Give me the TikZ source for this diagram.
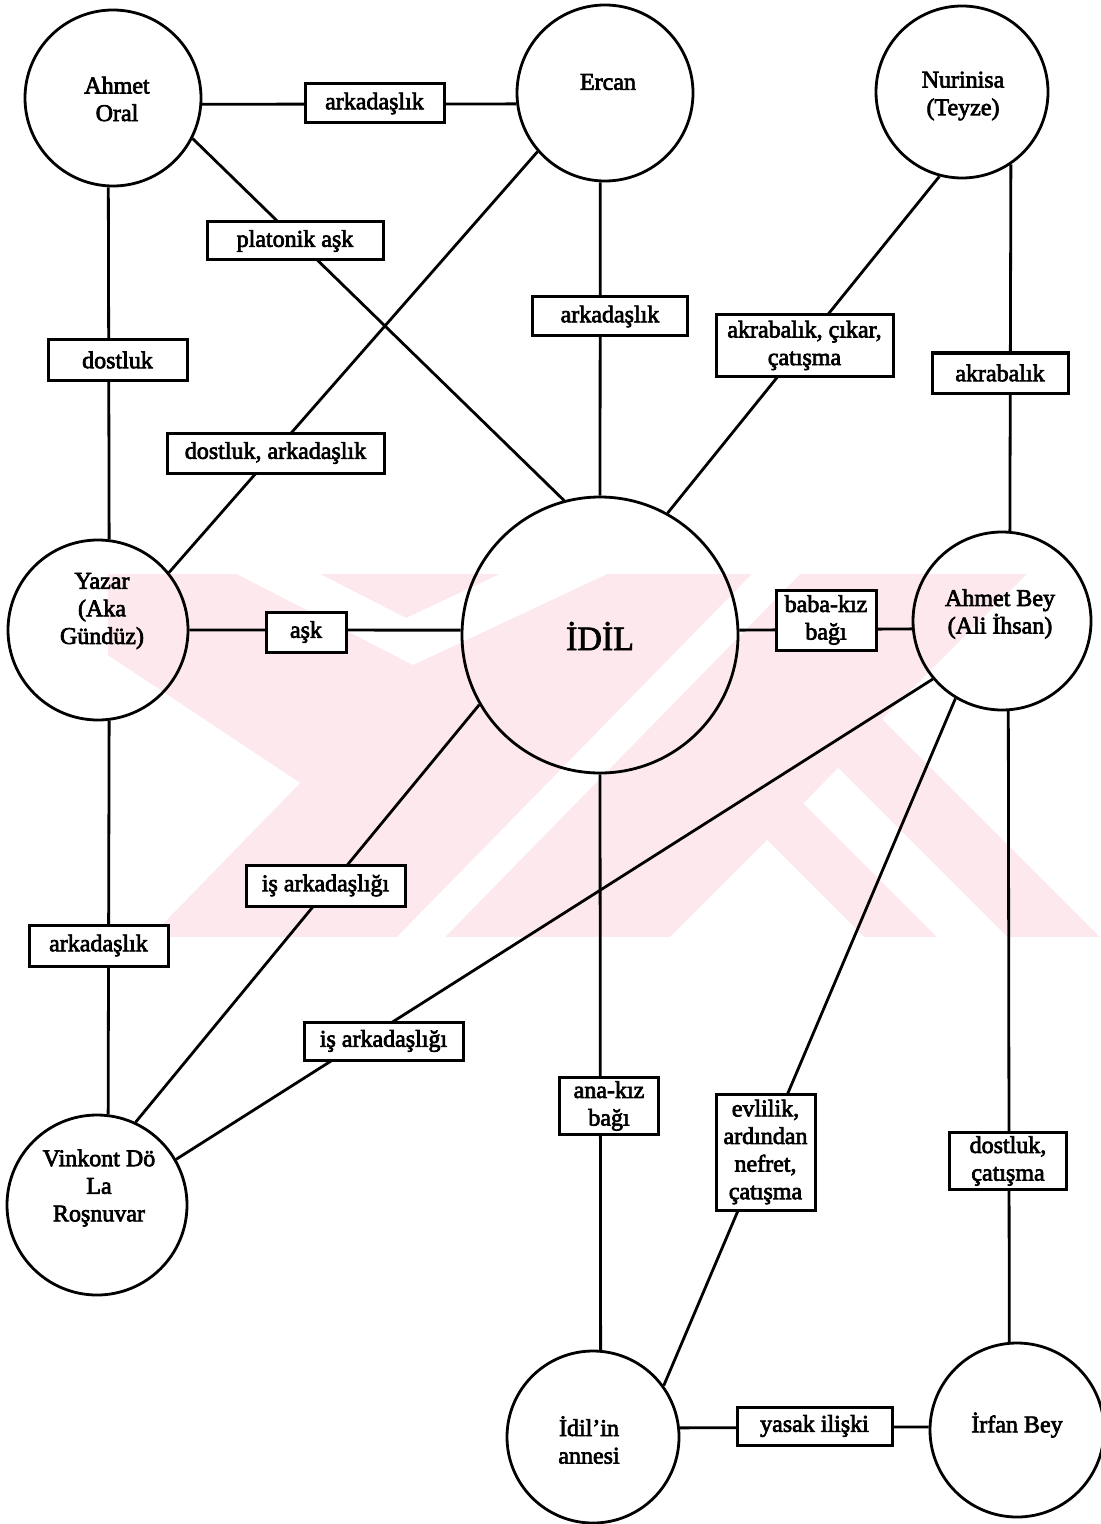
\documentclass[tikz,border=0pt]{standalone}
\usepackage{fontspec}
\setmainfont{Liberation Serif}
\definecolor{wmpink}{RGB}{253,233,237}
% print glyphs filled and outlined, for a heavier ink
\newcommand{\inkon}{\special{pdf:literal direct 2 Tr 0.35 w}}
\newcommand{\inkoff}{\special{pdf:literal direct 0 Tr}}
\begin{document}
\begin{tikzpicture}[x=0.5pt,y=-0.5pt,
  person/.style={circle, draw, line width=1.4pt, inner sep=0pt, minimum size=#1},
  ptext/.style={align=center, inner sep=0pt, font=\fontsize{12}{13.8}\selectfont\inkon,
    execute at end node=\inkoff},
  relbox/.style 2 args={draw, fill=white, line width=1.5pt, inner sep=0pt,
    align=center, minimum width=#1, minimum height=#2,
    font=\fontsize{12}{13.8}\selectfont\inkon, execute at end node=\inkoff},
  link/.style={line width=1.4pt}]
\useasboundingbox (0,0) rectangle (1100,1524);

% faint emblem in the background
\begin{scope}
  \clip (108,574) rectangle (1100,937);
  \fill[wmpink] (108,574) rectangle (1100,937);
  \fill[white] (100,650) -- (300,783) -- (150,937) -- (100,937) -- cycle;
  \fill[white] (237,574) -- (320,574) -- (406,618) -- (500,574) -- (607,574) -- (413,665) -- cycle;
  \fill[white] (397,937) -- (445,937) -- (800,574) -- (752,574) -- cycle;
  \fill[white] (670,937) -- (767,840) -- (864,937) -- cycle;
  \fill[white] (838,768) -- (1007,937) -- (937,937) -- (803.5,803.5) -- cycle;
  \fill[white] (882,719) -- (1027,574) -- (1110,574) -- (1110,947) -- cycle;
\end{scope}

% characters
\node[person=88pt] (ao) at (113,98) {};
\node[ptext] (aot) at (117,99) {Ahmet\\Oral};
\node[person=88pt] (er) at (605,93) {};
\node[ptext] (ert) at (608,82) {Ercan};
\node[person=86pt] (nu) at (962,92) {};
\node[ptext] (nut) at (963,96) {Nurinisa\\(Teyze)};
\node[person=90pt] (ya) at (98,630) {};
\node[ptext] (yat) at (102,611) {Yazar\\(Aka\\Gündüz)};
\node[person=138pt] (id) at (600,635) {};
\node[ptext, font=\fontsize{17}{20}\selectfont\inkon] (idt) at (600,636) {İDİL};
\node[person=89pt] (ab) at (1002,621) {};
\node[ptext] (abt) at (1000,614) {Ahmet Bey\\(Ali İhsan)};
\node[person=90pt] (vi) at (97,1205) {};
\node[ptext] (vit) at (99,1188) {Vinkont Dö\\La\\Roşnuvar};
\node[person=86pt] (an) at (593,1437) {};
\node[ptext] (ant) at (589,1440) {İdil’in\\annesi};
\node[person=87pt] (ir) at (1017,1430) {};
\node[ptext] (irt) at (1017,1425) {İrfan Bey};

% relations
\draw[link] (ao.-4) -- (er.187);
\draw[link] (ao.-27) -- (id.105);
\draw[link] (ao.-93.3) -- (ya.83.6);
\draw[link] (er.-93.3) -- (id.90);
\draw[link] (er.221) -- (ya.39);
\draw[link] (nu.-105.5) -- (id.61);
\draw[link] (nu.-56.9) -- (ab.85.5);
\draw[link] (ya.-0.6) -- (id.178.3);
\draw[link] (id.2.5) -- (ab.185.2);
\draw[link] (ya.-83.6) -- (vi.83);
\draw[link] (id.210.6) -- (vi.65.9);
\draw[link] (ab.220.3) -- (vi.30.3);
\draw[link] (id.-90) -- (an.85.3);
\draw[link] (ab.239.4) -- (an.36.2);
\draw[link] (ab.-86.1) -- (ir.95.9);
\draw[link] (an.6.7) -- (ir.178);

% relation labels
\node[relbox={69.5pt}{19.5pt}] (b1) at (374.5,103.5) {arkadaşlık};
\node[relbox={88pt}{19pt}] (b2) at (295,241) {platonik aşk};
\node[relbox={77.5pt}{19.5pt}] (b3) at (610,316.5) {arkadaşlık};
\node[relbox={88.5pt}{30.5pt}] (b4) at (804.5,345.5) {akrabalık, çıkar,\\çatışma};
\node[relbox={68pt}{20pt}] (b5) at (1000,373) {akrabalık};
\node[relbox={69.5pt}{20pt}] (b6) at (117.5,360) {dostluk};
\node[relbox={108.5pt}{20pt}] (b7) at (275.5,453) {dostluk, arkadaşlık};
\node[relbox={40pt}{20pt}] (b8) at (306,632) {aşk};
\node[relbox={50pt}{30pt}] (b9) at (826,620) {baba-kız\\bağı};
\node[relbox={79.5pt}{20.5pt}] (b10) at (325.5,885.5) {iş arkadaşlığı};
\node[relbox={69.5pt}{20.5pt}] (b11) at (98.5,945.5) {arkadaşlık};
\node[relbox={79.5pt}{19pt}] (b12) at (383.5,1041) {iş arkadaşlığı};
\node[relbox={49.5pt}{28.5pt}] (b13) at (609,1106) {ana-kız\\bağı};
\node[relbox={49.5pt}{58pt}] (b14) at (765.5,1152) {evlilik,\\ardından\\nefret,\\çatışma};
\node[relbox={58.5pt}{28.5pt}] (b15) at (1008,1161) {dostluk,\\çatışma};
\node[relbox={77.5pt}{19pt}] (b16) at (814.5,1426) {yasak ilişki};
\end{tikzpicture}
\end{document}
